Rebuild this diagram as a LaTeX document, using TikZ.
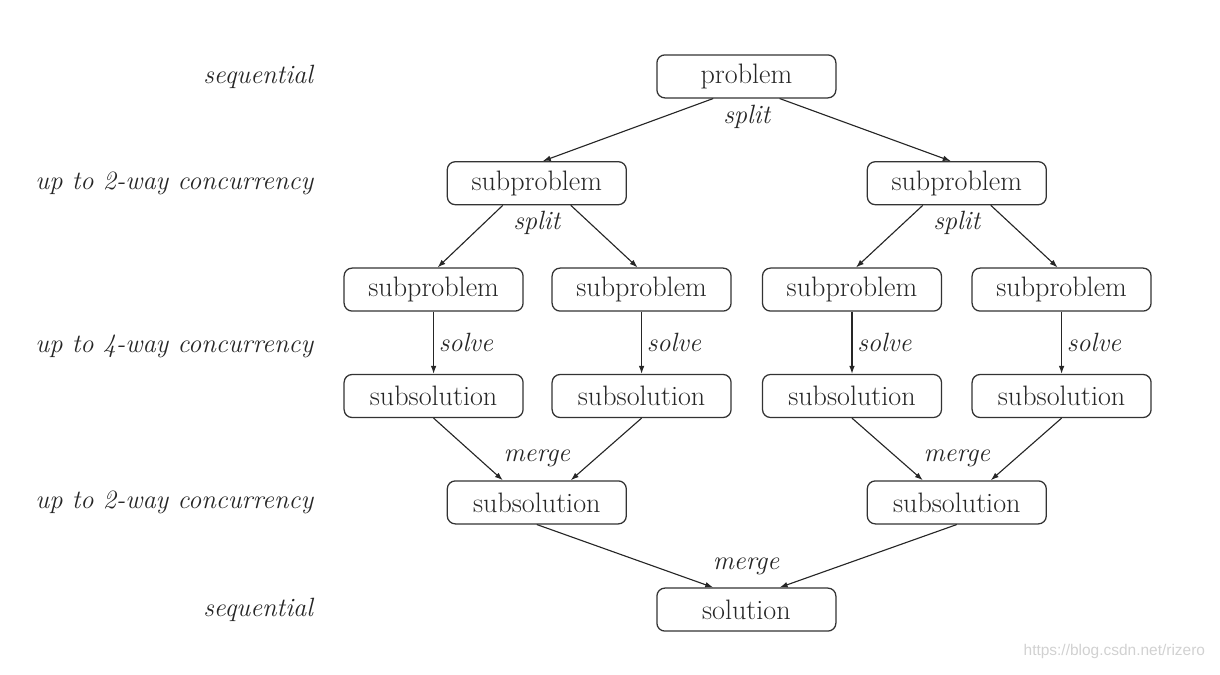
\documentclass[tikz,border=0pt]{standalone}
\usepackage{fontspec}
\newfontfamily\wmfont{Liberation Sans}
\usetikzlibrary{arrows.meta}
\begin{document}
\begin{tikzpicture}[every node/.style={font=\fontsize{20}{24}\selectfont,text=black!85},
  box/.style={draw=black!80,line width=0.9pt,rounded corners=0.2cm,minimum width=4.475cm,minimum height=1.075cm,inner sep=0pt},
  lbl/.style={font=\fontsize{18.8}{23}\selectfont\itshape},
  arr/.style={draw=black!85,line width=0.8pt,-{Latex[length=0.2cm,width=0.14cm]}}]
\useasboundingbox (0,0) rectangle (30.5,16.85);
% concurrency column
\node[lbl,anchor=east] (seqtop) at (7.95,14.94) {sequential};
\node[lbl,anchor=east] (twotop) at (7.95,12.27) {up to 2-way concurrency};
\node[lbl,anchor=east] (four) at (7.95,8.2) {up to 4-way concurrency};
\node[lbl,anchor=east] (twobot) at (7.95,4.3) {up to 2-way concurrency};
\node[lbl,anchor=east] (seqbot) at (7.95,1.61) {sequential};
% split down
\node[box] (prob) at (18.66,14.94) {problem};
\node[lbl] (splitA) at (18.67,13.92) {split};
\foreach \n/\x in {a/13.42,b/23.92} {\node[box] (sub\n) at (\x,12.27) {subproblem}; \node[lbl] (split\n) at (\x,11.27) {split};}
\draw[arr] ([xshift=-0.83cm]prob.south) -- ([xshift=0.15cm]suba.north);
\draw[arr] ([xshift=0.83cm]prob.south) -- ([xshift=-0.15cm]subb.north);
% solve the four pieces
\foreach \n/\x in {a1/10.84,a2/16.04,b1/21.3,b2/26.54} {\node[box] (sub\n) at (\x,9.61) {subproblem}; \node[box] (sol\n) at (\x,6.95) {subsolution}; \draw[arr] (sub\n) -- node[lbl,right] (solve\n) {solve} (sol\n);}
\foreach \p in {a,b} {\draw[arr] ([xshift=-0.85cm]sub\p.south) -- ([xshift=0.1cm]sub\p1.north); \draw[arr] ([xshift=0.85cm]sub\p.south) -- ([xshift=-0.1cm]sub\p2.north);}
% merge up
\foreach \n/\x in {a/13.42,b/23.92} {\node[box] (sol\n) at (\x,4.29) {subsolution}; \node[lbl] (merge\n) at (\x,5.4) {merge}; \draw[arr] (sol\n1.south) -- ([xshift=-0.85cm]sol\n.north); \draw[arr] (sol\n2.south) -- ([xshift=0.85cm]sol\n.north);}
\node[box] (soln) at (18.66,1.61) {solution};
\node[lbl] (mergeA) at (18.65,2.68) {merge};
\draw[arr] (sola.south) -- ([xshift=-0.83cm]soln.north);
\draw[arr] (solb.south) -- ([xshift=0.83cm]soln.north);
\node[font=\wmfont\fontsize{11}{13}\selectfont,text=black!18,anchor=east] (wm) at (30.25,0.57) {https://blog.csdn.net/rizero};
\end{tikzpicture}
\end{document}
